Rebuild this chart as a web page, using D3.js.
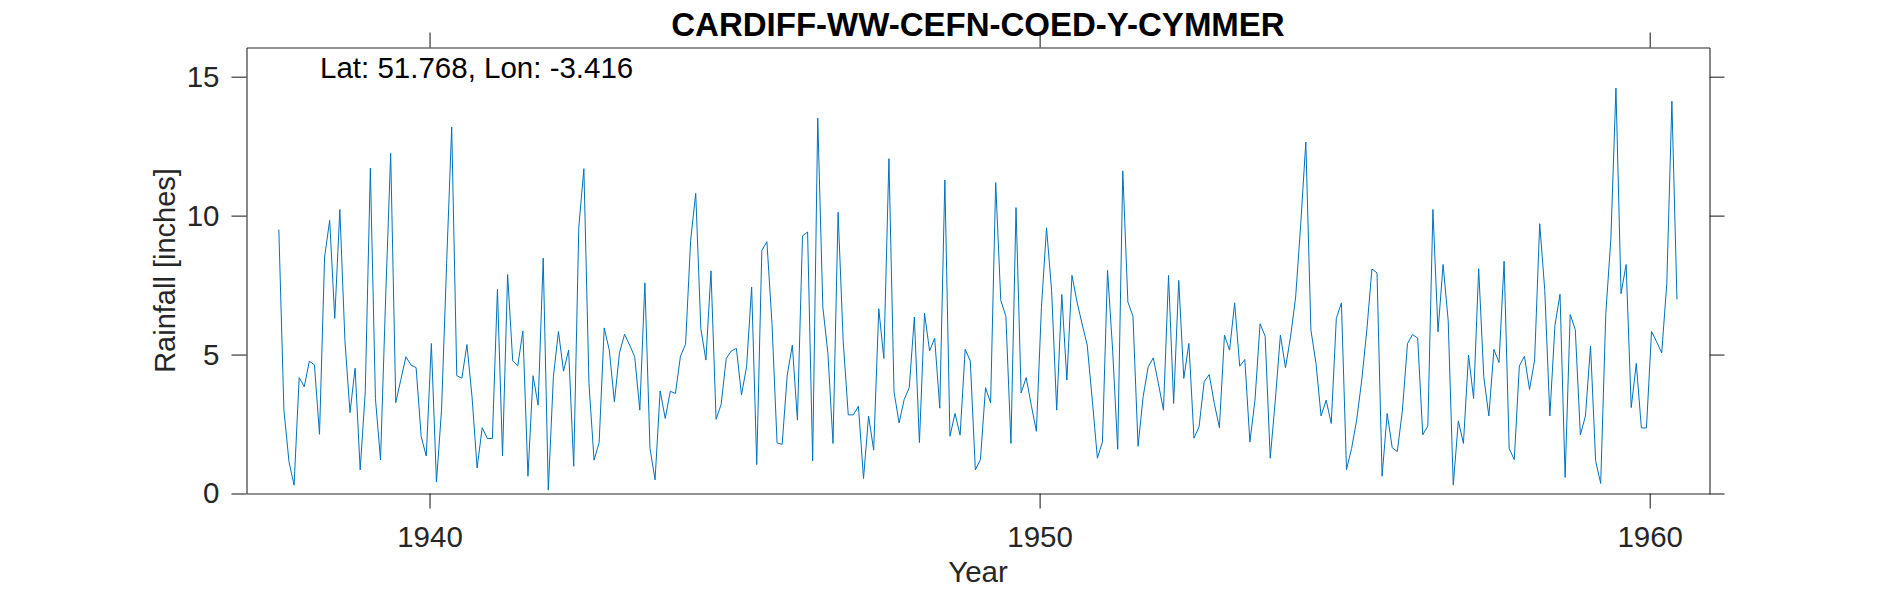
<!DOCTYPE html>
<html><head><meta charset="utf-8">
<script src="https://cdn.jsdelivr.net/npm/d3@7"></script>
<style>html,body{margin:0;padding:0;background:#fff}svg{display:block}text{font-family:"Liberation Sans",Arial,sans-serif}</style>
</head><body><svg id="c" width="1890" height="591"></svg>
<script>
const titleText = "CARDIFF-WW-CEFN-COED-Y-CYMMER";
const noteText = "Lat: 51.768, Lon: -3.416";
const xLabel = "Year";
const yLabel = "Rainfall [inches]";
const xTicks = [1940, 1950, 1960];
const yTicks = [0, 5, 10, 15];
const startYear = 1937.53; // first monthly reading
const rainfall = [
9.50,3.00,1.14,0.30,4.17,3.84,4.76,4.63,2.13,8.51,9.83,6.30,10.22,5.50,2.91,4.51,0.85,3.66,11.71,3.42,1.21,7.00,12.24,3.27,
4.10,4.92,4.62,4.53,2.04,1.35,5.40,0.41,3.00,8.27,13.19,4.24,4.15,5.36,3.48,0.92,2.37,1.98,1.98,7.35,1.35,7.88,4.77,4.60,
5.85,0.62,4.24,3.18,8.47,0.12,4.20,5.83,4.40,5.16,0.98,9.59,11.69,3.96,1.20,1.83,5.96,5.16,3.30,5.06,5.73,5.34,4.92,3.00,
7.58,1.62,0.49,3.69,2.70,3.68,3.60,4.94,5.37,9.11,10.80,5.94,4.80,8.01,2.67,3.21,4.86,5.13,5.22,3.55,4.56,7.43,1.04,8.75,
9.06,6.11,1.82,1.77,4.26,5.34,2.64,9.27,9.41,1.18,13.51,6.71,5.04,1.80,10.12,5.50,2.83,2.83,3.14,0.54,2.79,1.56,6.65,4.86,
12.05,3.66,2.54,3.38,3.81,6.35,1.83,6.49,5.13,5.59,3.07,11.28,2.06,2.88,2.10,5.19,4.77,0.85,1.22,3.81,3.26,11.19,6.95,6.38,
1.80,10.29,3.62,4.17,3.18,2.24,6.70,9.56,7.30,3.00,7.16,4.08,7.85,6.89,6.10,5.34,3.36,1.27,1.86,8.03,5.16,1.59,11.61,6.89,
6.38,1.70,3.48,4.56,4.88,3.96,3.00,7.85,3.24,7.67,4.14,5.40,1.99,2.40,4.02,4.28,3.24,2.37,5.70,5.16,6.86,4.58,4.82,1.85,
3.36,6.11,5.66,1.27,3.36,5.70,4.53,5.64,7.07,9.70,12.65,5.88,4.68,2.79,3.36,2.52,6.30,6.86,0.86,1.62,2.64,4.08,5.88,8.08,
7.94,0.62,2.88,1.64,1.51,3.00,5.40,5.72,5.59,2.11,2.43,10.22,5.82,8.24,6.23,0.30,2.61,1.80,4.98,3.42,8.09,4.20,2.79,5.19,
4.71,8.36,1.62,1.22,4.59,4.94,3.74,4.80,9.71,7.31,2.79,6.05,7.17,0.58,6.44,5.90,2.11,2.79,5.31,1.18,0.36,6.47,9.17,14.59,
7.19,8.24,3.09,4.68,2.36,2.36,5.83,5.46,5.06,7.55,14.12,6.98
];
const axisColor = "#262626", lineColor = "#0072BD";
const L=246.5,R=1709.5,T=47.5,B=493.5,tick=15;
const svg = d3.select("#c");
const x = d3.scaleLinear().domain([1937,1960.98]).range([L,R]);
const y = d3.scaleLinear().domain([0,16.05]).range([B,T]);

const line = d3.line().x((d,i)=>x(startYear+i/12)).y(d=>y(d));
svg.append("path").datum(rainfall).attr("d",line).attr("fill","none").attr("stroke",lineColor).attr("stroke-width",1).attr("stroke-linejoin","miter");

function styleAxis(g){
  g.selectAll("path,line").attr("stroke",axisColor).attr("stroke-width",1.1);
  g.selectAll("text").attr("fill",axisColor).attr("font-size",29.5).attr("font-family",'"Liberation Sans",Arial,sans-serif');
}
const xb = d3.axisBottom(x).tickValues(xTicks).tickFormat(d3.format("d")).tickSize(tick).tickSizeOuter(0).tickPadding(18);
const yl = d3.axisLeft(y).tickValues(yTicks).tickFormat(d3.format("d")).tickSize(tick).tickSizeOuter(0).tickPadding(12);
svg.append("g").attr("transform",`translate(0,${B})`).call(xb).call(styleAxis);
svg.append("g").attr("transform",`translate(${L},0)`).call(yl).call(styleAxis);
const xt = d3.axisTop(x).tickValues(xTicks).tickFormat("").tickSize(tick).tickSizeOuter(0);
const yr = d3.axisRight(y).tickValues(yTicks).tickFormat("").tickSize(tick).tickSizeOuter(0);
svg.append("g").attr("transform",`translate(0,${T})`).call(xt).call(styleAxis);
svg.append("g").attr("transform",`translate(${R},0)`).call(yr).call(styleAxis);

svg.append("text").attr("x",(L+R)/2).attr("y",36).attr("text-anchor","middle").attr("font-weight","bold").attr("font-size",33).attr("fill","#000").text(titleText);
svg.append("text").attr("x",320).attr("y",78).attr("font-size",29.5).attr("fill","#000").text(noteText);
svg.append("text").attr("x",(L+R)/2).attr("y",582).attr("text-anchor","middle").attr("font-size",29.5).attr("fill",axisColor).text(xLabel);
svg.append("text").attr("transform",`translate(175,${(T+B)/2}) rotate(-90)`).attr("text-anchor","middle").attr("font-size",29).attr("fill",axisColor).text(yLabel);
</script></body></html>
